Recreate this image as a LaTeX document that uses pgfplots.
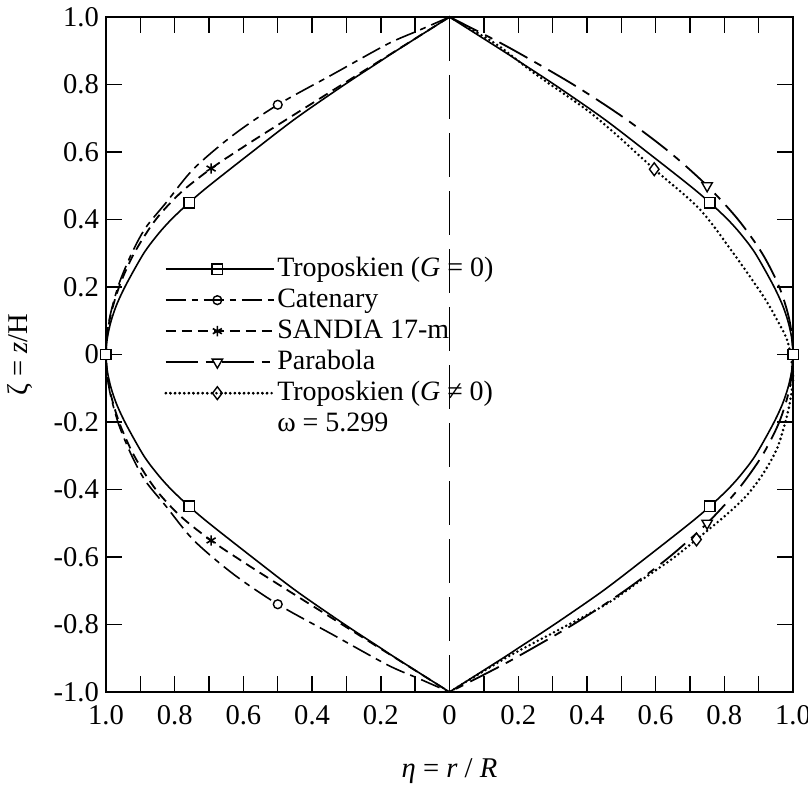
\documentclass[border=0pt]{standalone}
\usepackage{fontspec}
\setmainfont{Liberation Serif}
\usepackage{pgfplots}
\pgfplotsset{compat=1.18}
\usepackage{pgfplotstable}

% Blade shapes: eta = r/R against zeta = z/H
\pgfplotstableread{
eta zeta
0.000 1.00
0.155 0.90
0.206 0.866
0.305 0.80
0.447 0.70
0.575 0.60
0.700 0.50
0.758 0.45
0.810 0.40
0.848 0.357
0.890 0.30
0.940 0.21
0.968 0.15
0.985 0.10
0.996 0.05
1.000 0.00
0.996 -0.05
0.985 -0.10
0.968 -0.15
0.940 -0.21
0.890 -0.30
0.848 -0.357
0.810 -0.40
0.758 -0.45
0.700 -0.50
0.575 -0.60
0.447 -0.70
0.305 -0.80
0.206 -0.866
0.155 -0.90
0.000 -1.00
}\troposkien

\pgfplotstableread{
eta zeta
0.000 1.00
0.090 0.96
0.180 0.92
0.340 0.83
0.500 0.74
0.630 0.65
0.745 0.55
0.825 0.45
0.885 0.375
0.925 0.30
0.962 0.21
0.987 0.12
0.998 0.05
1.000 0.00
0.998 -0.05
0.987 -0.12
0.962 -0.21
0.925 -0.30
0.885 -0.375
0.825 -0.45
0.745 -0.55
0.630 -0.65
0.500 -0.74
0.340 -0.83
0.180 -0.92
0.090 -0.96
0.000 -1.00
}\catenary

\pgfplotstableread{
eta zeta
0.000 1.00
0.250 0.84
0.500 0.68
0.600 0.615
0.694 0.551
0.782 0.48
0.855 0.40
0.918 0.30
0.962 0.20
0.990 0.10
1.000 0.00
0.990 -0.10
0.962 -0.20
0.918 -0.30
0.855 -0.40
0.782 -0.48
0.694 -0.551
0.600 -0.615
0.500 -0.68
0.250 -0.84
0.000 -1.00
}\sandia

\pgfplotstableread{
eta zeta
0.000 1.00
0.0975 0.95
0.190 0.90
0.360 0.80
0.510 0.70
0.640 0.60
0.750 0.50
0.840 0.40
0.910 0.30
0.960 0.20
0.990 0.10
1.000 0.00
0.990 -0.10
0.960 -0.20
0.910 -0.30
0.840 -0.40
0.750 -0.50
0.640 -0.60
0.510 -0.70
0.360 -0.80
0.190 -0.90
0.0975 -0.95
0.000 -1.00
}\parabola

\pgfplotstableread{
eta zeta
0.000 1.00
0.135 0.92
0.250 0.831
0.398 0.726
0.487 0.65
0.596 0.549
0.728 0.431
0.825 0.302
0.912 0.175
0.955 0.10
0.985 0.036
1.000 -0.06
0.991 -0.142
0.975 -0.21
0.953 -0.28
0.915 -0.35
0.865 -0.418
0.800 -0.48
0.719 -0.548
0.649 -0.605
0.556 -0.67
0.456 -0.74
0.310 -0.82
0.164 -0.899
0.000 -1.00
}\troposkienG

\begin{document}
\begin{tikzpicture}
\useasboundingbox (-53pt,-51pt) rectangle (351pt,346pt);
\begin{axis}[
  at={(0pt,0pt)}, anchor=south west,
  scale only axis, width=343.5pt, height=337.5pt,
  xmin=-1, xmax=1, ymin=-1, ymax=1,
  clip=false,
  xtick={-1,-0.8,-0.6,-0.4,-0.2,0,0.2,0.4,0.6,0.8,1},
  xticklabels={1.0,0.8,0.6,0.4,0.2,0,0.2,0.4,0.6,0.8,1.0},
  minor x tick num=1,
  ytick={-1,-0.8,-0.6,-0.4,-0.2,0,0.2,0.4,0.6,0.8,1},
  yticklabels={-1.0,-0.8,-0.6,-0.4,-0.2,0,0.2,0.4,0.6,0.8,1.0},
  major tick length=8pt, minor tick length=8pt,
  tick style={black, line width=0.7pt},
  axis line style={line width=1.4pt},
  ticklabel style={font=\fontsize{14.3}{16}\selectfont},
  xticklabel style={yshift=-3pt},
  label style={font=\fontsize{14.3}{16}\selectfont},
  xlabel={\textit{η} = \textit{r} / \textit{R}},
  ylabel={ζ = \textit{z}/H},
  xlabel style={at={(axis description cs:0.5,-0.117)}, anchor=center},
  ylabel style={at={(axis description cs:-0.125,0.5)}, anchor=center},
  legend cell align=left,
  legend style={at={(axis cs:-0.831,0.30)}, anchor=north west,
    draw=none, fill=none, inner sep=0pt, row sep=0pt,
    font=\fontsize{14}{16}\selectfont,
    nodes={inner sep=1pt, text height=10.5pt, text depth=3pt}},
  legend image code/.code={
    \draw[mark repeat=2,mark phase=2,#1] plot coordinates {(0pt,0pt) (25.75pt,0pt) (51.5pt,0pt)};
    \path (0pt,0pt) -- (54pt,0pt);},
  every axis plot/.append style={black},
]
% legend entries
\addlegendimage{line width=0.8pt, mark=square*, mark size=2.6pt, mark options={solid, fill=white, line width=0.7pt}}
\addlegendentry{Troposkien (\textit{G} = 0)}
\addlegendimage{line width=0.8pt, dash pattern=on 10pt off 3pt on 3pt off 3pt, mark=*, mark size=2.2pt, mark options={solid, fill=white, line width=0.7pt}}
\addlegendentry{Catenary}
\addlegendimage{line width=0.9pt, dash pattern=on 5pt off 3pt, mark=asterisk, mark size=2.6pt, mark options={solid, line width=0.8pt}}
\addlegendentry{SANDIA 17-m}
\addlegendimage{line width=0.9pt, dash pattern=on 16pt off 4pt on 4pt off 4pt, mark=triangle*, mark size=3pt, mark options={solid, fill=white, rotate=180, line width=0.7pt}}
\addlegendentry{Parabola}
\addlegendimage{line width=1.4pt, line cap=round, dash pattern=on 0pt off 2.3pt, mark=diamond*, mark size=3.2pt, mark options={solid, fill=white, line width=0.7pt}}
\addlegendentry{Troposkien (\textit{G} ≠ 0)}
\addlegendimage{empty legend}
\addlegendentry{ω = 5.299}

% rotation axis
\addplot[forget plot, line width=0.9pt, dash pattern=on 22pt off 7pt] coordinates {(0,1) (0,-1)};

% left half
\addplot[forget plot, line width=0.8pt, smooth] table[x expr=-\thisrow{eta}, y=zeta] {\troposkien};
\addplot[forget plot, line width=0.8pt, smooth, dash pattern=on 10pt off 3pt on 3pt off 3pt] table[x expr=-\thisrow{eta}, y=zeta] {\catenary};
\addplot[forget plot, line width=0.9pt, smooth, dash pattern=on 5pt off 3pt] table[x expr=-\thisrow{eta}, y=zeta] {\sandia};

% right half
\addplot[forget plot, line width=0.8pt, smooth] table[x=eta, y=zeta] {\troposkien};
\addplot[forget plot, line width=0.9pt, smooth, dash pattern=on 16pt off 4pt on 4pt off 4pt] table[x=eta, y=zeta] {\parabola};
\addplot[forget plot, line width=1.4pt, smooth, line cap=round, dash pattern=on 0pt off 2.3pt] table[x=eta, y=zeta] {\troposkienG};

% symbols on the curves
\addplot[forget plot, only marks, mark=square*, mark size=2.6pt, mark options={fill=white, line width=0.7pt}]
  coordinates {(-0.758,0.45) (-0.758,-0.45) (0.758,0.45) (0.758,-0.45) (-1,0) (1,0)};
\addplot[forget plot, only marks, mark=*, mark size=2.2pt, mark options={fill=white, line width=0.7pt}]
  coordinates {(-0.5,0.74) (-0.5,-0.74)};
\addplot[forget plot, only marks, mark=asterisk, mark size=2.6pt, mark options={line width=0.8pt}]
  coordinates {(-0.694,0.551) (-0.694,-0.551)};
\addplot[forget plot, only marks, mark=triangle*, mark size=3pt, mark options={fill=white, rotate=180, line width=0.7pt}]
  coordinates {(0.75,0.5) (0.75,-0.5)};
\addplot[forget plot, only marks, mark=diamond*, mark size=3.2pt, mark options={fill=white, line width=0.7pt}]
  coordinates {(0.596,0.549) (0.719,-0.548)};
\end{axis}
\end{tikzpicture}
\end{document}
